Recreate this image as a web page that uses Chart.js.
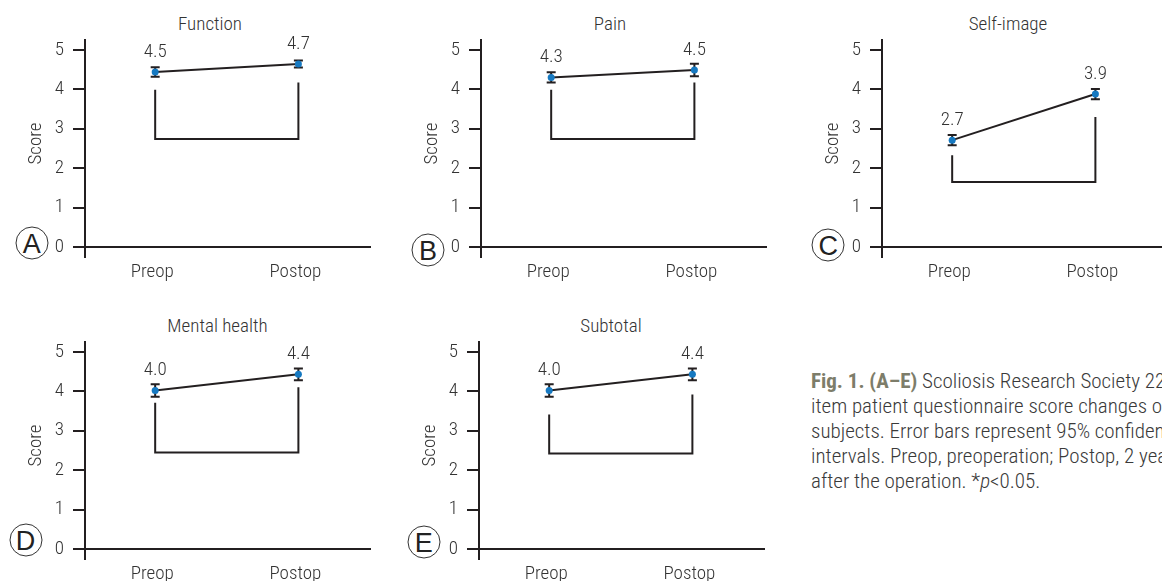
<!DOCTYPE html>
<html><head><meta charset="utf-8">
<script src="https://cdn.jsdelivr.net/npm/chart.js@4.4.1/dist/chart.umd.min.js"></script>
<style>
html,body{margin:0;padding:0;width:1162px;height:581px;overflow:hidden;background:#fff;}
body{position:relative;font-family:'Roboto Condensed','DejaVu Sans Condensed',sans-serif;font-weight:300;}
.wrap{position:absolute;}
.ttl{position:absolute;transform:translate(-50%,-50%);font-size:19px;color:#333;white-space:nowrap;line-height:1;}
.badge{position:absolute;width:33px;height:33px;box-sizing:border-box;border:1.4px solid #333;border-radius:50%;transform:translate(-50%,-50%);font-family:'Liberation Sans',Arial,sans-serif;font-weight:400;font-size:27px;line-height:32px;text-align:center;color:#222;}
.cap{position:absolute;left:811px;top:369px;font-size:21px;line-height:25px;color:#3a3a3a;white-space:nowrap;}
.cap b{color:#7d7d6a;font-weight:700;}
</style>
</head><body>
<div id="root"></div>
<div class="cap">
<div><b>Fig. 1. (A–E)</b> Scoliosis Research Society 22-</div>
<div>item patient questionnaire score changes of the</div>
<div>subjects. Error bars represent 95% confidence</div>
<div>intervals. Preop, preoperation; Postop, 2 years</div>
<div>after the operation. *<i>p</i>&lt;0.05.</div>
</div>
<script>
// ---- data ----
const categories = ['Preop', 'Postop'];
const panelTitles = ['Function', 'Pain', 'Self-image', 'Mental health', 'Subtotal'];
const panelLetters = ['A', 'B', 'C', 'D', 'E'];
const preopMean = [4.44, 4.30, 2.71, 4.02, 4.02];
const postopMean = [4.64, 4.49, 3.88, 4.43, 4.43];
const preopCI = [0.12, 0.13, 0.13, 0.16, 0.16];
const postopCI = [0.09, 0.16, 0.13, 0.15, 0.15];
const preopLabels = ['4.5', '4.3', '2.7', '4.0', '4.0'];
const postopLabels = ['4.7', '4.5', '3.9', '4.4', '4.4'];
const bracketLeftTop = [3.99, 3.99, 2.33, 3.71, 3.41];
const bracketBottom = [2.74, 2.74, 1.65, 2.45, 2.42];
const bracketRightTop = [4.17, 4.17, 3.30, 4.10, 3.92];
const yTickValues = [0, 1, 2, 3, 4, 5];

// ---- layout (not data) ----
const FONT = "'Roboto Condensed','DejaVu Sans Condensed',sans-serif";
const layoutPanels = [
  {axisX: 85,  top: 0,   titleX: 210, titleY: 23,  badgeX: 31.7, badgeY: 242.7},
  {axisX: 481, top: 0,   titleX: 610, titleY: 23,  badgeX: 428,  badgeY: 250},
  {axisX: 882, top: 0,   titleX: 1008, titleY: 23, badgeX: 828.3, badgeY: 245},
  {axisX: 85,  top: 302, titleX: 217.5, titleY: 325, badgeX: 25.5, badgeY: 540},
  {axisX: 479, top: 302, titleX: 611, titleY: 325, badgeX: 423.7, badgeY: 541.7}
];
const YW = 60, CW = 289, H = 292, XH = 45, PT = 40;
const INK = '#231f20', TXT = '#333';

Chart.defaults.font.family = FONT;
Chart.defaults.font.weight = '300';
Chart.defaults.color = TXT;

const root = document.getElementById('root');

panelTitles.forEach((title, i) => {
  const L = layoutPanels[i];
  const t = document.createElement('div');
  t.className = 'ttl'; t.style.left = L.titleX + 'px'; t.style.top = L.titleY + 'px';
  t.textContent = title; root.appendChild(t);
  const b = document.createElement('div');
  b.className = 'badge'; b.style.left = L.badgeX + 'px'; b.style.top = L.badgeY + 'px';
  b.textContent = panelLetters[i]; root.appendChild(b);

  const w = document.createElement('div');
  w.className = 'wrap';
  w.style.left = (L.axisX - YW) + 'px'; w.style.top = L.top + 'px';
  w.style.width = (YW + CW) + 'px'; w.style.height = H + 'px';
  const c = document.createElement('canvas');
  c.width = YW + CW; c.height = H;
  w.appendChild(c); root.appendChild(w);

  const means = [preopMean[i], postopMean[i]];
  const cis = [preopCI[i], postopCI[i]];
  const labels = [preopLabels[i], postopLabels[i]];

  const errPlugin = {
    id: 'errbars',
    beforeDatasetsDraw(chart) {
      const {ctx, scales: {x, y}} = chart;
      ctx.save();
      ctx.strokeStyle = INK; ctx.lineWidth = 2;
      means.forEach((m, k) => {
        const px = x.getPixelForValue(k + 1);
        const y1 = y.getPixelForValue(m + cis[k]);
        const y2 = y.getPixelForValue(m - cis[k]);
        ctx.beginPath();
        ctx.moveTo(px, y1); ctx.lineTo(px, y2);
        ctx.moveTo(px - 4.5, y1); ctx.lineTo(px + 4.5, y1);
        ctx.moveTo(px - 4.5, y2); ctx.lineTo(px + 4.5, y2);
        ctx.stroke();
      });
      ctx.restore();
    },
    afterDatasetsDraw(chart) {
      const {ctx, scales: {x, y}} = chart;
      ctx.save();
      ctx.fillStyle = TXT;
      ctx.font = '300 19px ' + FONT;
      ctx.textAlign = 'center'; ctx.textBaseline = 'middle';
      means.forEach((m, k) => {
        ctx.fillText(labels[k], x.getPixelForValue(k + 1), y.getPixelForValue(m) - 20);
      });
      ctx.restore();
    }
  };

  new Chart(c, {
    type: 'line',
    data: {
      datasets: [
        {
          data: means.map((m, k) => ({x: k + 1, y: m})),
          borderColor: INK, borderWidth: 2,
          pointRadius: 3.5, pointBackgroundColor: '#1679c1', pointBorderWidth: 0,
          tension: 0
        },
        {
          data: [
            {x: 1, y: bracketLeftTop[i]}, {x: 1, y: bracketBottom[i]},
            {x: 2, y: bracketBottom[i]}, {x: 2, y: bracketRightTop[i]}
          ],
          borderColor: INK, borderWidth: 2, pointRadius: 0, tension: 0
        }
      ]
    },
    options: {
      responsive: false, animation: false, devicePixelRatio: 1,
      layout: {padding: {top: PT, left: 0, right: 0, bottom: 0}},
      plugins: {legend: {display: false}, tooltip: {enabled: false}, title: {display: false}},
      scales: {
        x: {
          type: 'linear', min: 0.51, max: 2.5,
          afterFit(s) { s.height = XH; },
          afterBuildTicks(s) { s.ticks = [{value: 0.51}].concat(categories.map((_, k) => ({value: k + 1}))); },
          ticks: {
            autoSkip: false, maxRotation: 0, padding: 3, labelOffset: -3, color: TXT,
            font: {size: 19, weight: '300'},
            callback: (v) => (Number.isInteger(v) ? categories[v - 1] : '')
          },
          grid: {
            drawOnChartArea: false, tickLength: 11, lineWidth: 2,
            color: (ctx) => (ctx.index === 0 ? INK : 'rgba(0,0,0,0)')
          },
          border: {color: INK, width: 2}
        },
        y: {
          type: 'linear', min: 0, max: 5.25,
          afterFit(s) { s.width = YW; },
          afterBuildTicks(s) { s.ticks = yTickValues.map(v => ({value: v})); },
          ticks: {padding: 9, color: TXT, font: {size: 19, weight: '300'}},
          grid: {drawOnChartArea: false, tickLength: 12, lineWidth: 2, color: INK},
          border: {color: INK, width: 2},
          title: {display: true, text: 'Score', padding: 0, color: TXT, font: {size: 19, weight: '300'}}
        }
      }
    },
    plugins: [errPlugin]
  });
});
</script>
</body></html>
